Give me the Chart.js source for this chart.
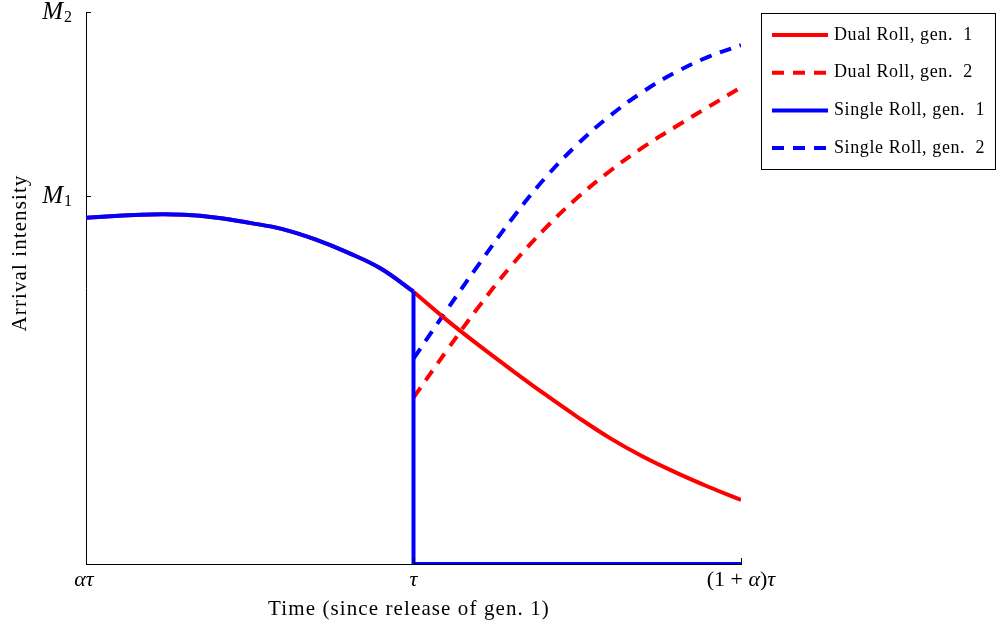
<!DOCTYPE html>
<html>
<head>
<meta charset="utf-8">
<title>Arrival intensity</title>
<script src="https://cdn.jsdelivr.net/npm/chart.js@4.4.1/dist/chart.umd.min.js"></script>
<style>
  html, body { margin: 0; padding: 0; background: #fff; }
  #wrap { position: relative; width: 997px; height: 629px; }
</style>
</head>
<body>
<div id="wrap"><canvas id="c" width="997" height="629"></canvas></div>
<script>
// time axis: 0 = ατ, 1 = τ, 2 = (1+α)τ ; intensity axis: M1 = 1, M2 = 1.5
const xFirst  = [0, 0.1, 0.2, 0.3, 0.4, 0.5, 0.6, 0.7, 0.8, 0.9, 1.0];
const xSecond = [1.0, 1.1, 1.2, 1.3, 1.4, 1.5, 1.6, 1.7, 1.8, 1.9, 2.0];

const gen1Before  = [0.941, 0.946, 0.950, 0.949, 0.941, 0.927, 0.910, 0.882, 0.846, 0.803, 0.740];
const dualGen1    = [0.740, 0.664, 0.594, 0.527, 0.462, 0.400, 0.342, 0.292, 0.249, 0.210, 0.174];
const dualGen2    = [0.452, 0.578, 0.700, 0.812, 0.910, 0.995, 1.068, 1.132, 1.188, 1.242, 1.295];
const singleGen2  = [0.558, 0.688, 0.815, 0.937, 1.047, 1.140, 1.218, 1.283, 1.336, 1.378, 1.410];
// single roll gen. 1 drops to zero at τ and stays there
const singleAfterX = [1.0, 1.0, 2.0];
const singleAfterY = [0.740, 0, 0];

const xTicks = [0, 1, 2];
// each label is a run of [text, italic] pieces
const xTickLabels = [
  [['ατ', true]],
  [['τ', true]],
  [['(1', false], [' + ', false], ['α', true], [')', false], ['τ', true]]
];
const yTicks = [1, 1.5];
const yTickLabels = [['M', '1'], ['M', '2']];

const legendItems = [
  { label: 'Dual Roll, gen.  1',   color: '#ff0000', dash: [] },
  { label: 'Dual Roll, gen.  2',   color: '#ff0000', dash: [12, 9] },
  { label: 'Single Roll, gen.  1', color: '#0000ff', dash: [] },
  { label: 'Single Roll, gen.  2', color: '#0000ff', dash: [12, 9] }
];

const pts = (xs, ys) => xs.map((x, i) => ({ x, y: ys[i] }));

const SERIF = '"Liberation Serif", "DejaVu Serif", serif';

function drawRuns(ctx, runs, cx, cy, size) {
  const fontOf = it => `${it ? 'italic ' : ''}${size}px ${SERIF}`;
  let total = 0;
  runs.forEach(([t, it]) => { ctx.font = fontOf(it); total += ctx.measureText(t).width; });
  let px = cx - total / 2;
  ctx.textAlign = 'left';
  runs.forEach(([t, it]) => {
    ctx.font = fontOf(it);
    ctx.fillText(t, px, cy);
    px += ctx.measureText(t).width;
  });
}

// ticks, tick labels, axis titles and the boxed legend
const decorations = {
  id: 'decorations',
  afterDraw(chart) {
    const { ctx, scales: { x, y }, chartArea: a } = chart;
    ctx.save();
    ctx.strokeStyle = '#000';
    ctx.lineWidth = 1;
    ctx.beginPath();
    xTicks.forEach(v => {
      const px = Math.round(x.getPixelForValue(v)) + 0.5;
      ctx.moveTo(px, a.bottom); ctx.lineTo(px, a.bottom - 6);
    });
    yTicks.forEach(v => {
      const py = Math.round(y.getPixelForValue(v)) + 0.5;
      ctx.moveTo(a.left, py); ctx.lineTo(a.left + 5, py);
    });
    ctx.stroke();

    ctx.fillStyle = '#000';
    ctx.textBaseline = 'middle';
    xTicks.forEach((v, i) => {
      drawRuns(ctx, xTickLabels[i], x.getPixelForValue(v) - (i === 0 ? 2 : 0), a.bottom + 16, 22);
    });

    yTicks.forEach((v, i) => {
      const py = y.getPixelForValue(v);
      const [base, sub] = yTickLabels[i];
      ctx.font = `16px ${SERIF}`;
      const sw = ctx.measureText(sub).width;
      ctx.textAlign = 'right';
      ctx.fillText(sub, 72, py + 6);
      ctx.font = `italic 25px ${SERIF}`;
      ctx.fillText(base, 71 - sw, py);
    });

    ctx.font = `21px ${SERIF}`;
    ctx.letterSpacing = '1.1px';
    ctx.textAlign = 'center';
    ctx.fillText('Time (since release of gen. 1)', 409, 609);
    ctx.save();
    ctx.translate(20, 253);
    ctx.rotate(-Math.PI / 2);
    ctx.fillText('Arrival intensity', 0, 0);
    ctx.restore();

    // legend box
    ctx.lineWidth = 1;
    ctx.strokeStyle = '#000';
    ctx.strokeRect(761.5, 13.5, 234, 156);
    ctx.font = `18px ${SERIF}`;
    ctx.letterSpacing = '0.6px';
    ctx.textAlign = 'left';
    legendItems.forEach((it, i) => {
      const ly = 35 + i * 37.7;
      ctx.beginPath();
      ctx.strokeStyle = it.color;
      ctx.lineWidth = 4;
      ctx.setLineDash(it.dash);
      ctx.moveTo(772, ly); ctx.lineTo(828, ly);
      ctx.stroke();
      ctx.setLineDash([]);
      ctx.fillText(it.label, 834, ly);
    });
    ctx.restore();
  }
};

const line = (label, data, color, dash, order) => ({
  label, data, order,
  borderColor: color, backgroundColor: color,
  borderWidth: 4, borderDash: dash,
  pointRadius: 0, tension: 0.4,
  fill: false
});

new Chart(document.getElementById('c'), {
  type: 'line',
  data: {
    datasets: [
      line('Single Roll, gen. 1', pts(xFirst, gen1Before), '#0000ff', [], 1),
      { ...line('Single Roll, gen. 1 (after τ)', pts(singleAfterX, singleAfterY), '#0000ff', [], 1), tension: 0 },
      line('Dual Roll, gen. 1', pts(xFirst, gen1Before), '#ff0000', [], 2),
      line('Dual Roll, gen. 1 (after τ)', pts(xSecond, dualGen1), '#ff0000', [], 2),
      line('Dual Roll, gen. 2', pts(xSecond, dualGen2), '#ff0000', [12, 9], 3),
      line('Single Roll, gen. 2', pts(xSecond, singleGen2), '#0000ff', [12, 9], 4)
    ]
  },
  options: {
    responsive: false,
    animation: false,
    layout: { padding: { left: 86, right: 256, top: 12, bottom: 65 } },
    plugins: { legend: { display: false }, tooltip: { enabled: false } },
    scales: {
      x: {
        type: 'linear', min: 0, max: 2,
        ticks: { display: false },
        grid: { drawOnChartArea: false, drawTicks: false },
        border: { color: '#000', width: 1 }
      },
      y: {
        type: 'linear', min: 0, max: 1.5,
        ticks: { display: false },
        grid: { drawOnChartArea: false, drawTicks: false },
        border: { color: '#000', width: 1 }
      }
    }
  },
  plugins: [decorations]
});
</script>
</body>
</html>
